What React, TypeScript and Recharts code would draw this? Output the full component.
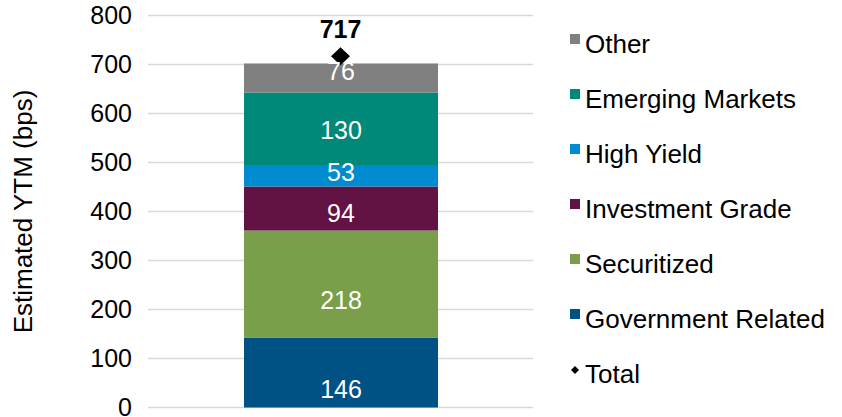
import { ComposedChart, Bar, Line, XAxis, YAxis, CartesianGrid, Legend, LabelList } from 'recharts'

// segment heights as drawn in the bar, and the numbers printed on them
const categories = ['Government Related', 'Securitized', 'Investment Grade', 'High Yield', 'Emerging Markets', 'Other']
const segmentHeights = [143, 218, 90, 44, 148, 59]
const segmentLabels = [146, 218, 94, 53, 130, 76]
const totalValue = 717
const yTicks = [0, 100, 200, 300, 400, 500, 600, 700, 800]

const colors = ['#005184', '#799f4a', '#621243', '#008bd0', '#008878', '#808080']
// small vertical nudge of the printed value inside each segment
const labelNudge = [17, 16, 4, -4, 1, -7]

const keys = categories.map((_, i) => `s${i}`)

const row: Record<string, number | string> = { name: '', total: totalValue }
keys.forEach((k, i) => {
  row[k] = segmentHeights[i]
  row[`${k}Label`] = segmentLabels[i]
})
const data = [row]

const FONT = '"Liberation Sans", Arial, sans-serif'

function Diamond(props: any) {
  const { cx, cy } = props
  if (cx == null || cy == null) return null
  return (
    <polygon
      key="total-dot"
      points={`${cx},${cy - 9} ${cx + 9.5},${cy} ${cx},${cy + 9} ${cx - 9.5},${cy}`}
      fill="#000"
    />
  )
}

function renderLegend() {
  const items = categories.map((c, i) => ({ name: c, color: colors[i] })).reverse()
  return (
    <div style={{ fontFamily: FONT, fontSize: 26, color: '#000' }}>
      {items.map((it) => (
        <div key={it.name} style={{ display: 'flex', alignItems: 'flex-start', height: 55, lineHeight: '26px' }}>
          <span style={{ width: 10, height: 10, background: it.color, marginTop: 3, marginRight: 5 }} />
          <span>{it.name}</span>
        </div>
      ))}
      <div style={{ display: 'flex', alignItems: 'flex-start', height: 55, lineHeight: '26px' }}>
        <svg width={10} height={10} style={{ marginTop: 4, marginRight: 5 }}>
          <polygon points="5,1 9,5 5,9 1,5" fill="#000" />
        </svg>
        <span>Total</span>
      </div>
    </div>
  )
}

export default function App() {
  return (
    <div style={{ width: 842, height: 417, fontFamily: FONT, background: '#fff' }}>
      <style>{'body{margin:0}'}</style>
      <ComposedChart
        width={842}
        height={417}
        data={data}
        margin={{ top: 15.5, right: 309, bottom: 9.5, left: 0 }}
      >
        <CartesianGrid vertical={false} stroke="#d9d9d9" strokeWidth={1.5} />
        <XAxis dataKey="name" hide />
        <YAxis
          width={148}
          domain={[0, 800]}
          ticks={yTicks}
          interval={0}
          axisLine={false}
          tickLine={false}
          tickMargin={10}
          tick={{ fill: '#000', fontSize: 25, fontFamily: FONT }}
          label={{
            value: 'Estimated YTM (bps)',
            angle: -90,
            position: 'insideLeft',
            offset: 23,
            style: { textAnchor: 'middle', fontSize: 26, fill: '#000', fontFamily: FONT },
          }}
        />
        {keys.map((k, i) => (
          <Bar key={k} dataKey={k} name={categories[i]} stackId="a" fill={colors[i]} barSize={194} isAnimationActive={false}>
            <LabelList
              dataKey={`${k}Label`}
              content={(p: any) => (
                <text
                  x={p.x + p.width / 2}
                  y={p.y + p.height / 2 + labelNudge[i]}
                  textAnchor="middle"
                  dominantBaseline="central"
                  fill="#fff"
                  fontSize={25}
                  fontFamily={FONT}
                >
                  {p.value}
                </text>
              )}
            />
          </Bar>
        ))}
        <Line dataKey="total" name="Total" stroke="none" dot={<Diamond />} activeDot={false} isAnimationActive={false}>
          <LabelList
            dataKey="total"
            content={(p: any) => (
              <text x={p.x} y={p.y - 18} textAnchor="middle" fill="#000" fontSize={25} fontWeight="bold" fontFamily={FONT}>
                {p.value}
              </text>
            )}
          />
        </Line>
        <Legend
          layout="horizontal"
          verticalAlign="middle"
          align="center"
          content={renderLegend}
          wrapperStyle={{ left: 570, top: 31, width: 'auto', height: 'auto' }}
        />
      </ComposedChart>
    </div>
  )
}
